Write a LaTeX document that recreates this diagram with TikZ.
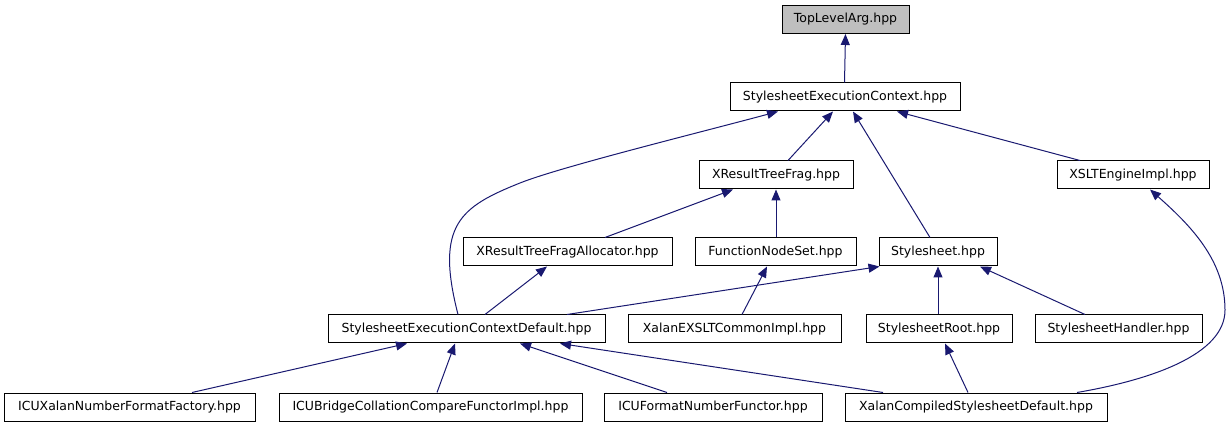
\documentclass[tikz,border=0pt]{standalone}
\usepackage{fontspec}
\setmainfont{DejaVu Sans}
\usetikzlibrary{arrows.meta}
\definecolor{edgeblue}{RGB}{25,25,112}
\definecolor{rootgray}{RGB}{191,191,191}
\begin{document}
\begin{tikzpicture}[x=1pt,y=-1pt,
  box/.style={draw=black, line width=1pt, fill=white, rectangle, minimum height=28pt, inner sep=0pt,
    font=\fontsize{12.5}{14}\selectfont},
  edge/.style={draw=edgeblue, line width=1pt, -{Triangle[length=11pt,width=9pt]}}
]
\useasboundingbox (0,0) rectangle (1231,427);
% row 1
\node[box, fill=rootgray, minimum width=127pt] (top) at (845.5,19.5) {TopLevelArg.hpp};
% row 2
\node[box, minimum width=230pt] (sec) at (845,97) {StylesheetExecutionContext.hpp};
% row 3
\node[box, minimum width=154pt] (xrtf) at (776,175) {XResultTreeFrag.hpp};
\node[box, minimum width=152pt] (xslt) at (1133,175) {XSLTEngineImpl.hpp};
% row 4
\node[box, minimum width=209pt] (alloc) at (567.5,252) {XResultTreeFragAllocator.hpp};
\node[box, minimum width=161pt] (fns) at (775.5,252) {FunctionNodeSet.hpp};
\node[box, minimum width=118pt] (ss) at (938,252) {Stylesheet.hpp};
% row 5
\node[box, minimum width=277pt] (secd) at (466.5,329) {StylesheetExecutionContextDefault.hpp};
\node[box, minimum width=213pt] (exslt) at (734.5,329) {XalanEXSLTCommonImpl.hpp};
\node[box, minimum width=146pt] (root) at (939,329) {StylesheetRoot.hpp};
\node[box, minimum width=167pt] (handler) at (1118.5,329) {StylesheetHandler.hpp};
% row 6
\node[box, minimum width=251pt] (icux) at (129.5,407) {ICUXalanNumberFormatFactory.hpp};
\node[box, minimum width=303pt] (bridge) at (430.5,407) {ICUBridgeCollationCompareFunctorImpl.hpp};
\node[box, minimum width=218pt] (fmt) at (713,407) {ICUFormatNumberFunctor.hpp};
\node[box, minimum width=262pt] (comp) at (976,407) {XalanCompiledStylesheetDefault.hpp};

% edges (child -> parent)
\draw[edge] ([xshift=-0.5pt]sec.north) -- (top.south);
\draw[edge] ([xshift=12pt]xrtf.north) -- ([xshift=-12pt]sec.south);
\draw[edge] ([xshift=-8pt]ss.north) -- ([xshift=8pt]sec.south);
\draw[edge] ([xshift=-53pt]xslt.north) -- ([xshift=52pt]sec.south);
\draw[edge] ([xshift=-8.5pt]secd.north) .. controls (435,225) and (460,207) .. (520,183)
  .. controls (560,167) and (698,133) .. ([xshift=-67pt]sec.south);
\draw[edge] ([xshift=37.5pt]alloc.north) -- ([xshift=-43pt]xrtf.south);
\draw[edge] ([xshift=0.5pt]fns.north) -- (xrtf.south);
\draw[edge] ([xshift=101pt]comp.north) .. controls (1150,380) and (1225,355) .. (1225,310)
  .. controls (1225,260) and (1190,225) .. ([xshift=17pt]xslt.south);
\draw[edge] ([xshift=18.5pt]secd.north) -- ([xshift=-20.5pt]alloc.south);
\draw[edge] ([xshift=100.5pt]secd.north) -- ([xshift=1pt]ss.south west);
\draw[edge] ([xshift=7.5pt]exslt.north) -- ([xshift=-8.5pt]fns.south);
\draw[edge] ([xshift=-1pt]root.north) -- (ss.south);
\draw[edge] ([xshift=-33.5pt]handler.north) -- ([xshift=42pt]ss.south);
\draw[edge] ([xshift=62.5pt]icux.north) -- ([xshift=-59.5pt]secd.south);
\draw[edge] ([xshift=6.5pt]bridge.north) -- ([xshift=-11.5pt]secd.south);
\draw[edge] ([xshift=-46pt]fmt.north) -- ([xshift=53.5pt]secd.south);
\draw[edge] ([xshift=-93pt]comp.north) -- ([xshift=93.5pt]secd.south);
\draw[edge] ([xshift=-8pt]comp.north) -- ([xshift=6pt]root.south);
\end{tikzpicture}
\end{document}
